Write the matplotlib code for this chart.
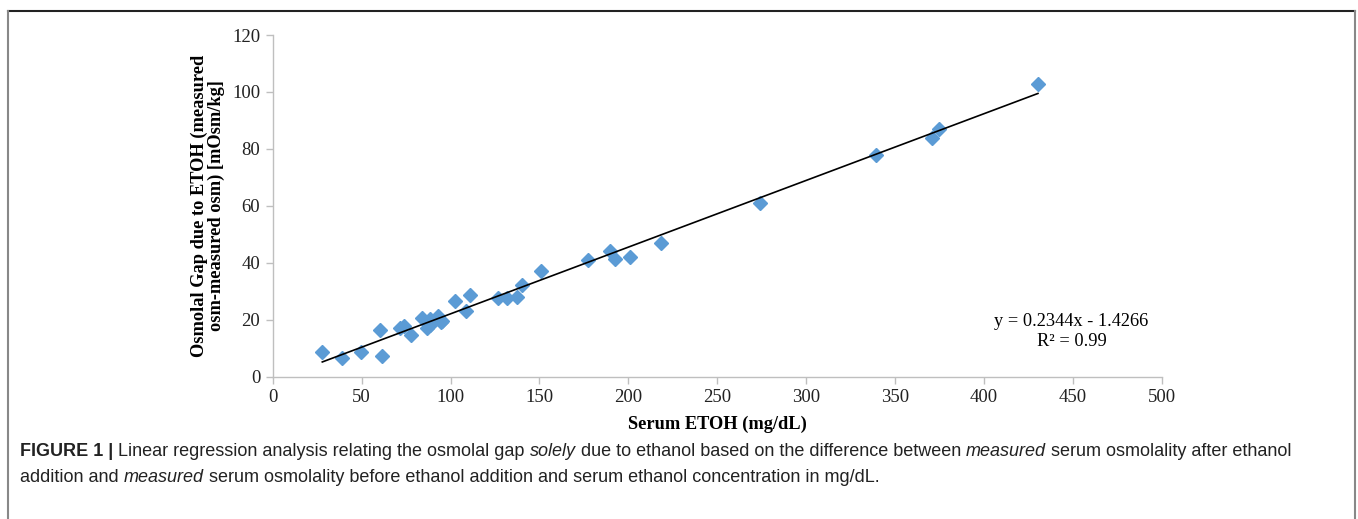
import matplotlib
matplotlib.use("Agg")
import matplotlib.pyplot as plt
import numpy as np
from matplotlib.lines import Line2D

# ---- data ----
serum_etoh = [27.9, 38.8, 49.9, 60.2, 61.5, 71.7, 73.9, 78.0, 84.2, 87.0,
              88.5, 88.5, 93.2, 94.5, 95.5, 102.6, 108.6, 110.8, 126.8, 132.0,
              137.2, 140.4, 150.7, 177.3, 189.7, 192.5, 200.8, 218.6, 274.3,
              339.1, 371.0, 374.9, 430.4]
osm_gap = [8.5, 6.6, 8.5, 16.5, 7.1, 17.1, 17.6, 14.7, 20.6, 17.1,
           18.2, 20.2, 21.2, 19.1, 19.5, 26.4, 22.9, 28.5, 27.6, 27.6,
           28.1, 32.1, 36.9, 41.1, 44.2, 41.4, 41.9, 47.0, 60.9,
           77.8, 83.7, 86.9, 102.7]
slope = 0.2344
intercept = -1.4266
r_squared = 0.99
x_ticks = [0, 50, 100, 150, 200, 250, 300, 350, 400, 450, 500]
y_ticks = [0, 20, 40, 60, 80, 100, 120]

W, H = 1358, 519
fig = plt.figure(figsize=(W / 100, H / 100), dpi=100)

def fx(px):
    return px / W

def fy(py):
    return 1 - py / H

ax = fig.add_axes([fx(272.7), fy(376.5), fx(1161.7) - fx(272.7), fy(35) - fy(376.5)])

serif = ['Liberation Serif', 'DejaVu Serif']
axis_col = '#bfbfbf'

ax.plot(serum_etoh, osm_gap, linestyle='none', marker='D', ms=7.4,
        color='#5b9bd5', mec='#5b9bd5', zorder=3)
xs = np.array([min(serum_etoh), max(serum_etoh)])
ax.plot(xs, slope * xs + intercept, color='black', lw=1.2, zorder=4)

ax.set_xlim(0, 500)
ax.set_ylim(0, 120)
ax.set_xticks(x_ticks)
ax.set_yticks(y_ticks)
ax.set_xticklabels([str(t) for t in x_ticks], fontfamily=serif, fontsize=13.5)
ax.set_yticklabels([str(t) for t in y_ticks], fontfamily=serif, fontsize=13.5)
for s in ['top', 'right']:
    ax.spines[s].set_visible(False)
for s in ['left', 'bottom']:
    ax.spines[s].set_color(axis_col)
    ax.spines[s].set_linewidth(1.0)
ax.tick_params(axis='both', direction='out', length=5, width=1.0, color=axis_col,
               labelcolor='#222222', pad=4)

ax.set_xlabel('Serum ETOH (mg/dL)', fontfamily=serif, fontsize=13.2, fontweight='bold',
              labelpad=7)
ax.set_ylabel('Osmolal Gap due to ETOH (measured\nosm-measured osm) [mOsm/kg]',
              fontfamily=serif, fontsize=13.2, fontweight='bold', labelpad=5,
              linespacing=1.0)

ax.text(fx(1071), fy(322), 'y = 0.2344x - 1.4266', transform=fig.transFigure,
        ha='center', va='center', fontfamily=serif, fontsize=13.2)
ax.text(fx(1072), fy(342), 'R² = %.2f' % r_squared, transform=fig.transFigure,
        ha='center', va='center', fontfamily=serif, fontsize=13.2)

# ---- border ----
fig.add_artist(Line2D([fx(8), fx(1355)], [fy(10.5), fy(10.5)], transform=fig.transFigure,
                      color='#222222', lw=1.5))
fig.add_artist(Line2D([fx(8), fx(8)], [fy(10.5), fy(519)], transform=fig.transFigure,
                      color='#888888', lw=1.5))
fig.add_artist(Line2D([fx(1355), fx(1355)], [fy(10.5), fy(519)], transform=fig.transFigure,
                      color='#888888', lw=1.5))

# ---- caption ----
cap_font = ['Liberation Sans Narrow', 'Liberation Sans', 'DejaVu Sans']
fig.canvas.draw()
renderer = fig.canvas.get_renderer()

def draw_line(segments, x0, y0, size):
    x = x0
    for txt, weight, style in segments:
        t = fig.text(x, y0, txt, fontfamily=cap_font, fontsize=size, fontweight=weight,
                     fontstyle=style, ha='left', va='center', color='#222222')
        bb = t.get_window_extent(renderer=renderer)
        x += bb.width / W

line1 = [('FIGURE 1 | ', 'bold', 'normal'),
         ('Linear regression analysis relating the osmolal gap ', 'normal', 'normal'),
         ('solely', 'normal', 'italic'),
         (' due to ethanol based on the difference between ', 'normal', 'normal'),
         ('measured', 'normal', 'italic'),
         (' serum osmolality after ethanol', 'normal', 'normal')]
line2 = [('addition and ', 'normal', 'normal'),
         ('measured', 'normal', 'italic'),
         (' serum osmolality before ethanol addition and serum ethanol concentration in mg/dL.',
          'normal', 'normal')]
draw_line(line1, fx(20), fy(451), 13.0)
draw_line(line2, fx(20), fy(477), 13.0)

fig.savefig('out.png', dpi=100)
